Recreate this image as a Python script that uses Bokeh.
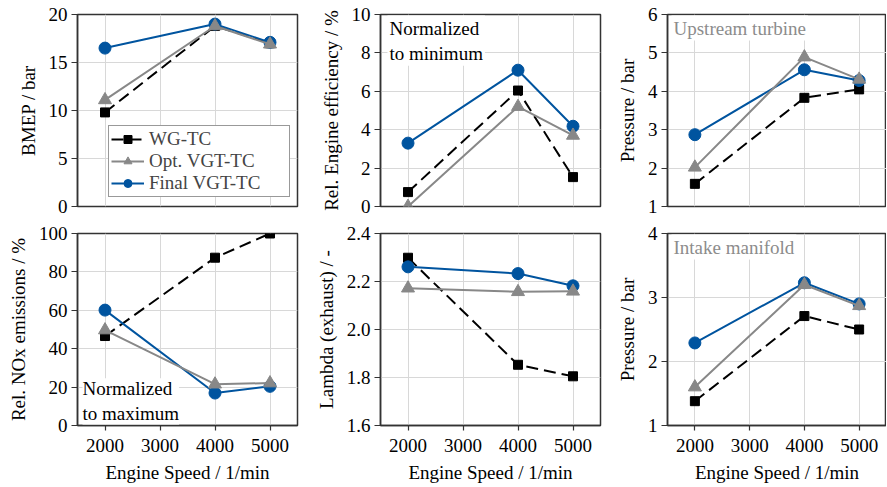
from bokeh.plotting import figure
from bokeh.models import Range1d, FixedTicker, Legend, LegendItem, Label, NumeralTickFormatter
from bokeh.layouts import column, row
from bokeh.embed import file_html
from bokeh.resources import INLINE

speed = [2000, 4000, 5000]
x_ticks = [2000, 3000, 4000, 5000]

bmep_wg = [9.8, 18.8, 17.0]
bmep_opt = [11.1, 18.8, 16.9]
bmep_final = [16.5, 19.0, 17.1]

eff_wg = [0.75, 6.04, 1.53]
eff_opt = [0.0, 5.2, 3.7]
eff_final = [3.3, 7.1, 4.18]

pturb_wg = [1.59, 3.83, 4.05]
pturb_opt = [2.02, 4.89, 4.31]
pturb_final = [2.87, 4.56, 4.28]

nox_wg = [46.6, 87.4, 100.0]
nox_opt = [49.7, 21.5, 22.1]
nox_final = [60.1, 16.9, 20.4]

lam_wg = [2.299, 1.853, 1.805]
lam_opt = [2.172, 2.157, 2.159]
lam_final = [2.261, 2.233, 2.182]

pint_wg = [1.38, 2.71, 2.50]
pint_opt = [1.60, 3.20, 2.87]
pint_final = [2.29, 3.23, 2.90]

series_names = ["WG-TC", "Opt. VGT-TC", "Final VGT-TC"]

FONT = "'Liberation Serif', 'Times New Roman', Times, serif"
FS = "19px"
BLUE = "#00549f"
GRAY = "#888888"
BLACK = "#000000"
AXC = "#333333"

COL_BORDERS = [(77, 220, 5), (78, 220, 5), (62, 219, 0)]
ROW_BORDERS = [(14, 192, 17), (10, 192, 62)]


def make(ci, ri, ylo, yhi, yticks, ylabel, wg, opt, fin, fmt=None):
    bl, fw, br = COL_BORDERS[ci]
    bt, fh, bb = ROW_BORDERS[ri]
    p = figure(output_backend="svg", toolbar_location=None,
               frame_width=fw, frame_height=fh,
               min_border_left=bl, min_border_right=br,
               min_border_top=bt, min_border_bottom=bb,
               x_range=Range1d(1500, 5500), y_range=Range1d(ylo, yhi))
    p.background_fill_color = "white"
    p.border_fill_color = "white"
    p.outline_line_color = AXC
    p.outline_line_width = 1.5

    p.xaxis.ticker = FixedTicker(ticks=x_ticks)
    p.yaxis.ticker = FixedTicker(ticks=yticks)
    if fmt:
        p.yaxis.formatter = NumeralTickFormatter(format=fmt)
    for ax in (p.xaxis, p.yaxis):
        ax.axis_line_color = AXC
        ax.axis_line_width = 1.5
        ax.major_tick_line_color = AXC
        ax.major_tick_line_width = 1.2
        ax.major_tick_in = 0
        ax.minor_tick_line_color = None
        ax.major_label_text_font = FONT
        ax.major_label_text_font_size = FS
        ax.major_label_text_color = "black"
        ax.axis_label_text_font = FONT
        ax.axis_label_text_font_size = FS
        ax.axis_label_text_font_style = "normal"
        ax.axis_label_text_color = "black"
    p.yaxis.major_tick_out = 6
    p.yaxis.major_label_standoff = 4
    p.yaxis.axis_label = ylabel
    p.yaxis.axis_label_standoff = 7
    if ri == 0:
        p.xaxis.visible = False
    else:
        p.xaxis.major_tick_out = 5
        p.xaxis.major_label_standoff = 8
        p.xaxis.axis_label = "Engine Speed / 1/min"
        p.xaxis.axis_label_standoff = 7

    p.xgrid.grid_line_color = "#d8d8d8"
    p.ygrid.grid_line_color = "#d8d8d8"
    p.xgrid.grid_line_width = 1
    p.ygrid.grid_line_width = 1

    l1 = p.line(speed, wg, line_color=BLACK, line_width=2, line_dash="12 6")
    s1 = p.scatter(speed, wg, marker="square", size=9, fill_color=BLACK, line_color=BLACK)
    l3 = p.line(speed, fin, line_color=BLUE, line_width=2)
    s3 = p.scatter(speed, fin, marker="circle", size=12, fill_color=BLUE, line_color=BLUE)
    l2 = p.line(speed, opt, line_color=GRAY, line_width=2)
    s2 = p.scatter(speed, opt, marker="triangle", size=13, fill_color=GRAY, line_color=GRAY)
    return p, [(series_names[0], [l1, s1]), (series_names[1], [l2, s2]), (series_names[2], [l3, s3])]


def add_label(p, x, y, text, anchor, color="black", xoff=0, yoff=0, pad=2):
    lab = Label(x=x, y=y, text=text, anchor=anchor, x_offset=xoff, y_offset=yoff,
                text_font=FONT, text_font_size=FS, text_color=color,
                background_fill_color="white", padding=pad, text_line_height=1.2)
    p.add_layout(lab)


p1, items = make(0, 0, 0, 20, [0, 5, 10, 15, 20], "BMEP / bar", bmep_wg, bmep_opt, bmep_final)
p2, _ = make(1, 0, 0, 10, [0, 2, 4, 6, 8, 10], "Rel. Engine efficiency / %", eff_wg, eff_opt, eff_final)
p3, _ = make(2, 0, 1, 6, [1, 2, 3, 4, 5, 6], "Pressure / bar", pturb_wg, pturb_opt, pturb_final)
p4, _ = make(0, 1, 0, 100, [0, 20, 40, 60, 80, 100], "Rel. NOx emissions / %", nox_wg, nox_opt, nox_final)
p5, _ = make(1, 1, 1.6, 2.4, [1.6, 1.8, 2.0, 2.2, 2.4], "Lambda (exhaust) / -", lam_wg, lam_opt, lam_final, fmt="0.0")
p6, _ = make(2, 1, 1, 4, [1, 2, 3, 4], "Pressure / bar", pint_wg, pint_opt, pint_final)

legend = Legend(items=[LegendItem(label=n, renderers=r) for n, r in items],
                location=(31, 9), label_text_font=FONT, label_text_font_size=FS,
                glyph_width=33, glyph_height=20, label_standoff=5, padding=2, spacing=0,
                margin=0, label_width=138, border_line_color=AXC, border_line_width=1.2,
                background_fill_color="white", background_fill_alpha=1.0)
p1.add_layout(legend)

add_label(p2, 1500, 10, "Normalized\nto minimum", "top_left", xoff=7, yoff=-1, pad=2)
add_label(p4, 1500, 0, "Normalized\nto maximum", "bottom_left", xoff=5, yoff=1, pad=0)
add_label(p3, 1500, 6, "Upstream turbine", "top_left", color="#8c8c8c", xoff=4, yoff=-1, pad=2)
add_label(p6, 1500, 4, "Intake manifold", "top_left", color="#8c8c8c", xoff=4, yoff=-1, pad=2)

layout = column(row(p1, p2, p3), row(p4, p5, p6))
open("out.html", "w").write(file_html(layout, INLINE))
